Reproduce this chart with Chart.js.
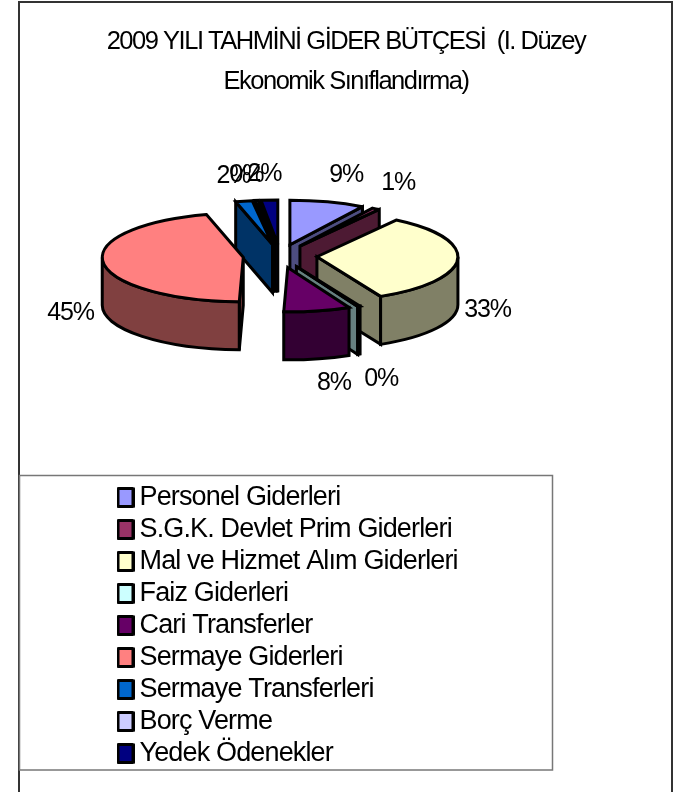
<!DOCTYPE html>
<html lang="tr"><head><meta charset="utf-8">
<style>html,body{margin:0;padding:0;background:#fff}#w{position:absolute;left:0;top:0;width:679px;height:792px}</style>
<script src="https://cdn.jsdelivr.net/npm/chart.js@4/dist/chart.umd.min.js"></script>
</head><body><div id="w"><canvas id="c" width="679" height="792"></canvas></div>
<script>
const categories = ["Personel Giderleri","S.G.K. Devlet Prim Giderleri","Mal ve Hizmet Alım Giderleri","Faiz Giderleri","Cari Transferler","Sermaye Giderleri","Sermaye Transferleri","Borç Verme","Yedek Ödenekler"];
const shares = [8.6,0.9,33,0.3,7.6,45.3,1.9,0.4,1.9];
const topColors = ["#9999ff","#993366","#ffffcc","#ccffff","#660066","#ff8080","#0066cc","#ccccff","#000080"];
const sideColors = ["#4d4d80","#4d1a33","#808066","#668080","#330033","#804040","#003366","#666680","#000040"];
const titleLines = ["2009 YILI TAHMİNİ GİDER BÜTÇESİ  (I. Düzey","Ekonomik Sınıflandırma)"];

const FONT = "'Liberation Sans',Arial,sans-serif";
const SQUASH = 0.315, DEPTH = 48, EXPLODE = 37, RADIUS = 141, EDGE = 3;
const CX = 280, CY = 256;
const labelNudge = [[10,2],[5,0],[-2,1],[8,3],[10,1],[-1,0],[-4,4],[-6,4],[-3,4]];

function swatch(color){
  const s = document.createElement('canvas'); s.width = 18; s.height = 21;
  const g = s.getContext('2d');
  g.fillStyle = color; g.strokeStyle = '#000'; g.lineWidth = 3; g.lineJoin = 'round';
  g.beginPath(); g.rect(1.5,1.5,15,18); g.fill(); g.stroke();
  return s;
}

const pie3d = {
  id:'pie3d',
  afterLayout(chart){
    chart.chartArea = {left:CX-200,right:CX+200,top:CY-200,bottom:CY+200,width:400,height:400};
    const l = chart.legend;
    l.left = 120; l.right = 480; l.top = 479; l.bottom = 790; l.width = 360; l.height = 311;
    l.draw = function(){ this._draw(); };
    const t = chart.titleBlock, baseDraw = t.draw;
    t.draw = function(){
      chart.ctx.letterSpacing = '-1.48px';
      baseDraw.call(this);
      chart.ctx.letterSpacing = '-0.85px';
    };
  },
  beforeDraw(chart){
    const c = chart.ctx;
    c.save();
    c.strokeStyle = '#333'; c.lineWidth = 2;
    c.strokeRect(19,2,653,800);
    c.strokeStyle = '#777'; c.lineWidth = 1.5;
    c.strokeRect(19.5,475.5,533,294.5);
    c.restore();
    c.letterSpacing = '-0.85px';
  },
  beforeDatasetsDraw(chart){
    const c = chart.ctx, meta = chart.getDatasetMeta(0);
    const order = meta.data.map((a,i)=>i).sort((p,q)=>{
      const m = i => (meta.data[i].startAngle+meta.data[i].endAngle)/2;
      return Math.sin(m(p))-Math.sin(m(q));
    });
    c.save(); c.lineWidth = EDGE; c.lineJoin = 'miter'; c.miterLimit = 3; c.strokeStyle = '#000';
    const pt = (x,y,r,t)=>[x+r*Math.cos(t), y+r*Math.sin(t)*SQUASH];
    order.forEach(i=>{
      const a = meta.data[i], s = a.startAngle, e = a.endAngle, r = a.outerRadius;
      const mid = (s+e)/2;
      const ox = a.x+EXPLODE*Math.cos(mid), oy = a.y+EXPLODE*Math.sin(mid)*SQUASH;
      c.fillStyle = sideColors[i];
      const face = t=>{
        const p = pt(ox,oy,r,t);
        c.beginPath(); c.moveTo(ox,oy); c.lineTo(p[0],p[1]); c.lineTo(p[0],p[1]+DEPTH); c.lineTo(ox,oy+DEPTH); c.closePath(); c.fill(); c.stroke();
      };
      if (Math.sin(s-Math.PI/2)>0) face(s);
      if (Math.sin(e+Math.PI/2)>0) face(e);
      [[Math.max(s,0),Math.min(e,Math.PI)],[Math.max(s,2*Math.PI),Math.min(e,3*Math.PI)]].forEach(([f,t])=>{
        if (t<=f) return;
        c.beginPath();
        c.ellipse(ox,oy,r,r*SQUASH,0,f,t,false);
        c.ellipse(ox,oy+DEPTH,r,r*SQUASH,0,t,f,true);
        c.closePath(); c.fill(); c.stroke();
      });
      c.fillStyle = topColors[i];
      c.beginPath(); c.moveTo(ox,oy); c.ellipse(ox,oy,r,r*SQUASH,0,s,e,false); c.closePath(); c.fill(); c.stroke();
    });
    c.fillStyle = '#000'; c.font = "25px "+FONT; c.textAlign='center'; c.textBaseline='middle';
    c.letterSpacing = '-1.2px';
    const total = shares.reduce((u,v)=>u+v,0);
    meta.data.forEach((a,i)=>{
      const m = (a.startAngle+a.endAngle)/2, lower = Math.sin(m)>0;
      const x = a.x+210*Math.cos(m)+labelNudge[i][0];
      const y = a.y+(lower?80:86)*Math.sin(m)+(lower?DEPTH:0)+labelNudge[i][1];
      c.fillText(Math.round(shares[i]/total*100)+'%',x,y);
    });
    c.restore();
    return false;
  }
};

new Chart(document.getElementById('c'),{
  type:'pie',
  data:{labels:categories,datasets:[{data:shares,backgroundColor:topColors,borderColor:'#000',borderWidth:2}]},
  plugins:[pie3d],
  options:{
    responsive:false,animation:false,radius:RADIUS,
    layout:{padding:{left:20,right:7,top:0,bottom:0}},
    plugins:{
      tooltip:{enabled:false},
      title:{display:true,text:titleLines,color:'#000',font:{family:FONT,size:25.5,weight:'normal',lineHeight:1.57},padding:{top:22,bottom:0}},
      legend:{display:true,position:'left',align:'start',
        labels:{color:'#000',font:{family:FONT,size:27},padding:5,usePointStyle:true,pointStyleWidth:1,boxHeight:18,
          generateLabels:ch=>categories.map((t,i)=>({text:t,fillStyle:topColors[i],strokeStyle:'#000',lineWidth:0,hidden:false,index:i,pointStyle:swatch(topColors[i]),fontColor:'#000'}))}}
    }
  }
});
</script></body></html>
